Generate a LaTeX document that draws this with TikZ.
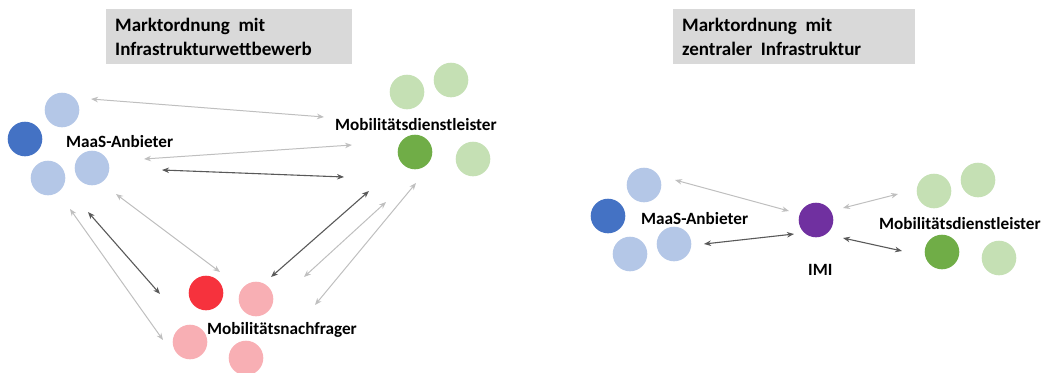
\documentclass[tikz,border=0pt]{standalone}
\usepackage{fontspec}
\setmainfont{Carlito}
\usetikzlibrary{arrows.meta}
\definecolor{blueL}{HTML}{B4C7E7}
\definecolor{blueD}{HTML}{4472C4}
\definecolor{greenL}{HTML}{C5E0B4}
\definecolor{greenD}{HTML}{70AD47}
\definecolor{redD}{HTML}{F6323D}
\definecolor{redL}{HTML}{F8AFB4}
\definecolor{purp}{HTML}{7030A0}
\definecolor{arrL}{HTML}{BFBFBF}
\definecolor{arrD}{HTML}{595959}
\definecolor{boxG}{HTML}{D9D9D9}
\begin{document}
\begin{tikzpicture}[x=1pt,y=-1pt,
  disc/.style={circle,minimum size=34.6pt,inner sep=0pt,draw=none,fill=#1},
  lbl/.style={font=\fontsize{17.2}{20}\selectfont\bfseries,anchor=base west,inner sep=0pt},
  ttl/.style={font=\fontsize{19}{22}\selectfont\bfseries,anchor=base west,inner sep=0pt},
  titlebox/.style={fill=boxG,draw=none,inner sep=0pt,anchor=north west},
  lite/.style={draw=arrL,line width=1pt,{Stealth[length=7pt,width=5.5pt]}-{Stealth[length=7pt,width=5.5pt]}},
  heavy/.style={draw=arrD,line width=1.1pt,{Stealth[length=7pt,width=5.5pt]}-{Stealth[length=7pt,width=5.5pt]}}]
\useasboundingbox (0,0) rectangle (1049,372);

% ---------- left: market with infrastructure competition ----------
\node[titlebox,minimum width=246pt,minimum height=55pt] (boxA) at (106,9) {};
\node[ttl] (boxA1) at (115,31.5) {Marktordnung~~mit};
\node[ttl] (boxA2) at (115,55) {Infrastrukturwettbewerb};

% MaaS providers
\node[disc=blueL] (ma1) at (62,110) {};
\node[disc=blueD] (ma2) at (25,139) {};
\node[disc=blueL] (ma3) at (48,178) {};
\node[disc=blueL] (ma4) at (92,168) {};
\node[lbl] (maL) at (66,147) {MaaS-Anbieter};

% mobility service providers
\node[disc=greenL] (md1) at (407,92) {};
\node[disc=greenL] (md2) at (451,80) {};
\node[disc=greenD] (md3) at (415,152) {};
\node[disc=greenL] (md4) at (473,159) {};
\node[lbl] (mdL) at (335,130) {Mobilitätsdienstleister};

% mobility demand
\node[disc=redD] (mn1) at (206,293) {};
\node[disc=redL] (mn2) at (256,299) {};
\node[disc=redL] (mn3) at (190,342) {};
\node[disc=redL] (mn4) at (246,358) {};
\node[lbl] (mnL) at (207,334.5) {Mobilitätsnachfrager};

% connector end points
\coordinate (a1s) at (91,99);   \coordinate (a1e) at (324,117);
\coordinate (a2s) at (352,145); \coordinate (a2e) at (144,159);
\coordinate (a3s) at (162,170); \coordinate (a3e) at (344,177);
\coordinate (a4s) at (116,194); \coordinate (a4e) at (220,272);
\coordinate (a5s) at (88,212);  \coordinate (a5e) at (160,294);
\coordinate (a6s) at (70,209);  \coordinate (a6e) at (163,340);
\coordinate (a7s) at (369,191); \coordinate (a7e) at (271,277);
\coordinate (a8s) at (386,202); \coordinate (a8e) at (304,277);
\coordinate (a9s) at (416,183); \coordinate (a9e) at (315,305);

\draw[lite]  (a1s) -- (a1e);
\draw[lite]  (a2s) -- (a2e);
\draw[heavy] (a3s) -- (a3e);
\draw[lite]  (a4s) -- (a4e);
\draw[heavy] (a5s) -- (a5e);
\draw[lite]  (a6s) -- (a6e);
\draw[heavy] (a7s) -- (a7e);
\draw[lite]  (a8s) -- (a8e);
\draw[lite]  (a9s) -- (a9e);

% ---------- right: market with central infrastructure ----------
\node[titlebox,minimum width=242pt,minimum height=55pt] (boxB) at (673,9) {};
\node[ttl] (boxB1) at (682,31.5) {Marktordnung~~mit};
\node[ttl] (boxB2) at (682,55) {zentraler~~Infrastruktur};

\node[disc=blueL] (mb1) at (644,185) {};
\node[disc=blueD] (mb2) at (608,216) {};
\node[disc=blueL] (mb3) at (630,254) {};
\node[disc=blueL] (mb4) at (674,244) {};
\node[lbl] (mbL) at (641,224) {MaaS-Anbieter};

\node[disc=purp] (imi) at (816,220) {};
\node[lbl] (imiL) at (808,275) {IMI};

\node[disc=greenL] (me1) at (934,191) {};
\node[disc=greenL] (me2) at (978,180) {};
\node[disc=greenD] (me3) at (942,252) {};
\node[disc=greenL] (me4) at (999,258) {};
\node[lbl] (meL) at (879,229) {Mobilitätsdienstleister};

\coordinate (b1s) at (675,180); \coordinate (b1e) at (789,211);
\coordinate (b2s) at (704,244); \coordinate (b2e) at (794,234);
\coordinate (b3s) at (843,208); \coordinate (b3e) at (898,194);
\coordinate (b4s) at (843,238); \coordinate (b4e) at (902,251);

\draw[lite]  (b1s) -- (b1e);
\draw[heavy] (b2s) -- (b2e);
\draw[lite]  (b3s) -- (b3e);
\draw[heavy] (b4s) -- (b4e);
\end{tikzpicture}
\end{document}
